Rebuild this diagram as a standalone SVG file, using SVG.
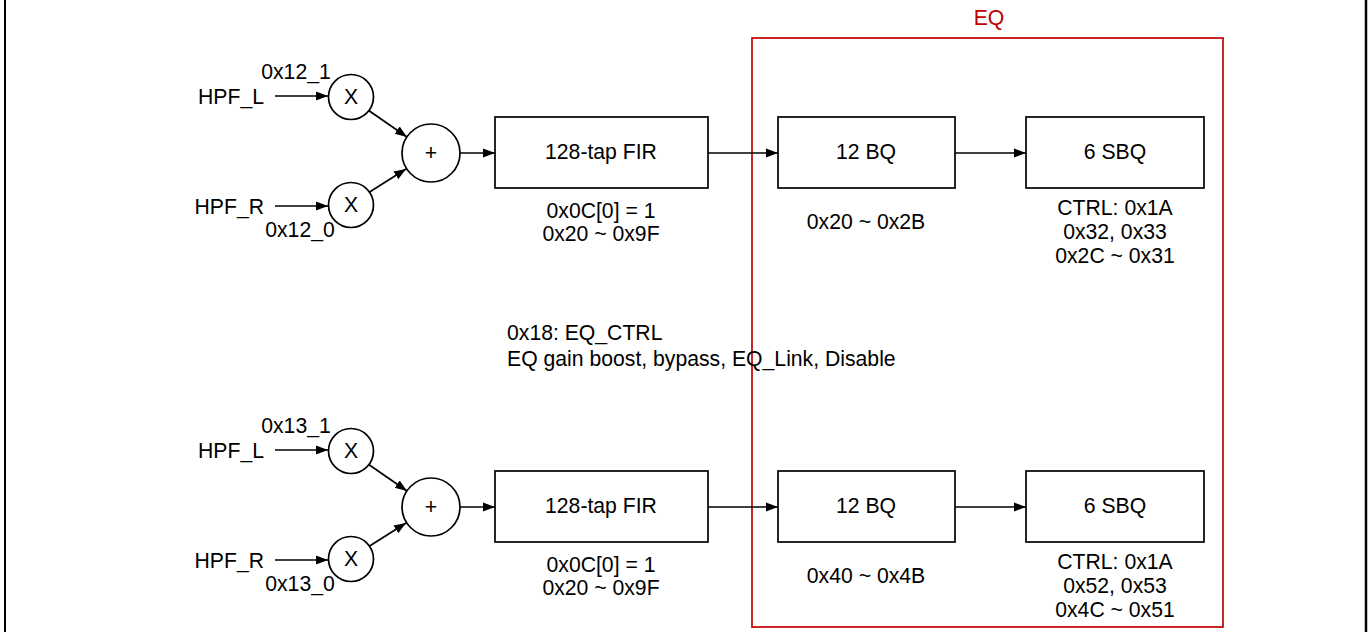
<svg xmlns="http://www.w3.org/2000/svg" width="1369" height="632" viewBox="0 0 1369 632">
<defs>
<marker id="ah" markerWidth="12" markerHeight="12" refX="12" refY="6" orient="auto" markerUnits="userSpaceOnUse">
<path d="M0,1.5 L12,6 L0,10.5 Z" fill="#000"/>
</marker>
<style>
text{font-family:"Liberation Sans",Arial,sans-serif;font-size:21.2px;fill:#000}
.c{text-anchor:middle}
.e{text-anchor:end}
.box{fill:#fff;stroke:#000;stroke-width:1.7}
.circ{fill:#fff;stroke:#000;stroke-width:1.7}
.ln{fill:none;stroke:#000;stroke-width:1.7;marker-end:url(#ah)}
.red{fill:#c00000}
</style>
</defs>
<rect width="1369" height="632" fill="#fff"/>
<line x1="5" y1="0" x2="5" y2="632" stroke="#000" stroke-width="2"/>
<line x1="1366" y1="0" x2="1366" y2="632" stroke="#000" stroke-width="2.5"/>

<g id="eq-frame">
<rect x="752" y="38" width="471" height="589" fill="none" stroke="#c00000" stroke-width="1.7"/>
<text class="c red" x="989" y="25">EQ</text>
</g>

<g id="connectors">
<line class="ln" x1="275" y1="96" x2="328" y2="96"/>
<line class="ln" x1="275" y1="206" x2="328" y2="206"/>
<line class="ln" x1="368" y1="110" x2="407" y2="137"/>
<line class="ln" x1="368" y1="193" x2="406" y2="169"/>
<line class="ln" x1="460" y1="153" x2="495" y2="153"/>
<line class="ln" x1="708" y1="153" x2="778" y2="153"/>
<line class="ln" x1="955" y1="153" x2="1026" y2="153"/>

<line class="ln" x1="275" y1="450" x2="328" y2="450"/>
<line class="ln" x1="275" y1="560" x2="328" y2="560"/>
<line class="ln" x1="368" y1="464" x2="407" y2="491"/>
<line class="ln" x1="368" y1="547" x2="406" y2="523"/>
<line class="ln" x1="460" y1="507" x2="495" y2="507"/>
<line class="ln" x1="708" y1="507" x2="778" y2="507"/>
<line class="ln" x1="955" y1="507" x2="1026" y2="507"/>
</g>

<g id="inputs-top">
<text class="c" x="296" y="79">0x12_1</text>
<text class="e" x="264" y="104">HPF_L</text>
<text class="e" x="264" y="214">HPF_R</text>
<text class="c" x="300" y="237">0x12_0</text>
</g>
<g id="mulL-top"><circle class="circ" cx="351" cy="97" r="22.5"/><text class="c" x="351" y="104">X</text></g>
<g id="mulR-top"><circle class="circ" cx="351" cy="205" r="22.5"/><text class="c" x="351" y="212">X</text></g>
<g id="sum-top"><circle class="circ" cx="431" cy="153" r="29"/><text class="c" x="431" y="160">+</text></g>
<g id="fir-top">
<rect class="box" x="495" y="117" width="213" height="71"/>
<text class="c" x="601" y="159">128-tap FIR</text>
<text class="c" x="601" y="218">0x0C[0] = 1</text>
<text class="c" x="601" y="241">0x20 ~ 0x9F</text>
</g>
<g id="bq-top">
<rect class="box" x="778" y="117" width="177" height="71"/>
<text class="c" x="866" y="159">12 BQ</text>
<text class="c" x="866" y="229">0x20 ~ 0x2B</text>
</g>
<g id="sbq-top">
<rect class="box" x="1026" y="117" width="178" height="71"/>
<text class="c" x="1115" y="159">6 SBQ</text>
<text class="c" x="1115" y="215">CTRL: 0x1A</text>
<text class="c" x="1115" y="239">0x32, 0x33</text>
<text class="c" x="1115" y="263">0x2C ~ 0x31</text>
</g>

<g id="eq-ctrl-note">
<text x="507" y="340">0x18: EQ_CTRL</text>
<text x="507" y="366">EQ gain boost, bypass, EQ_Link, Disable</text>
</g>

<g id="inputs-bottom">
<text class="c" x="296" y="433">0x13_1</text>
<text class="e" x="264" y="458">HPF_L</text>
<text class="e" x="264" y="568">HPF_R</text>
<text class="c" x="300" y="591">0x13_0</text>
</g>
<g id="mulL-bottom"><circle class="circ" cx="351" cy="451" r="22.5"/><text class="c" x="351" y="458">X</text></g>
<g id="mulR-bottom"><circle class="circ" cx="351" cy="559" r="22.5"/><text class="c" x="351" y="566">X</text></g>
<g id="sum-bottom"><circle class="circ" cx="431" cy="507" r="29"/><text class="c" x="431" y="514">+</text></g>
<g id="fir-bottom">
<rect class="box" x="495" y="471" width="213" height="71"/>
<text class="c" x="601" y="513">128-tap FIR</text>
<text class="c" x="601" y="572">0x0C[0] = 1</text>
<text class="c" x="601" y="595">0x20 ~ 0x9F</text>
</g>
<g id="bq-bottom">
<rect class="box" x="778" y="471" width="177" height="71"/>
<text class="c" x="866" y="513">12 BQ</text>
<text class="c" x="866" y="583">0x40 ~ 0x4B</text>
</g>
<g id="sbq-bottom">
<rect class="box" x="1026" y="471" width="178" height="71"/>
<text class="c" x="1115" y="513">6 SBQ</text>
<text class="c" x="1115" y="569">CTRL: 0x1A</text>
<text class="c" x="1115" y="593">0x52, 0x53</text>
<text class="c" x="1115" y="617">0x4C ~ 0x51</text>
</g>
</svg>
